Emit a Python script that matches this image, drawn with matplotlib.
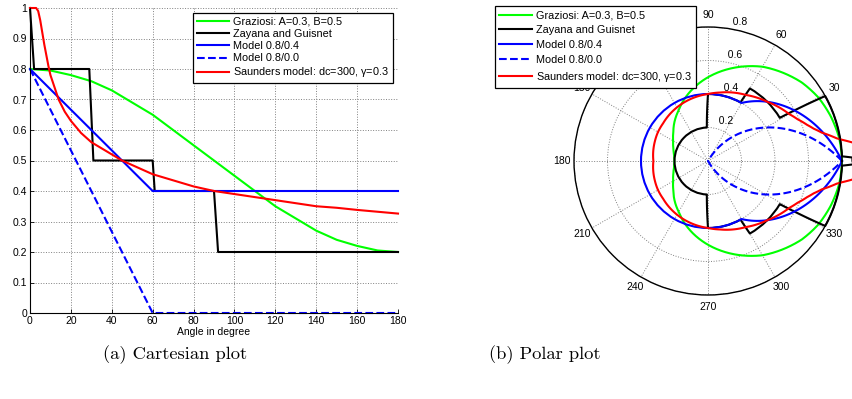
import numpy as np
import matplotlib
matplotlib.use("Agg")
import matplotlib.pyplot as plt

# ---- data (angle in degree, value) ----
graz_ang = [0, 10, 20, 30, 40, 50, 60, 70, 80, 90, 100, 110, 120, 130, 140, 150, 160, 170, 180]
graz_val = [0.80, 0.795, 0.78, 0.76, 0.73, 0.69, 0.65, 0.60, 0.55, 0.50,
            0.45, 0.40, 0.35, 0.31, 0.27, 0.24, 0.22, 0.205, 0.20]

zay_ang = [0, 2, 29, 31, 60, 61, 90, 92, 180]
zay_val = [1.0, 0.8, 0.8, 0.5, 0.5, 0.4, 0.4, 0.2, 0.2]

m84_ang = [0, 60, 180]
m84_val = [0.8, 0.4, 0.4]

m80_ang = [0, 60, 180]
m80_val = [0.8, 0.0, 0.0]

sau_ang = [0, 3, 4, 5, 6, 7, 8, 9, 10, 12, 14, 17, 20, 25, 30, 40, 45, 50, 60, 70,
           80, 90, 100, 110, 120, 130, 140, 150, 160, 170, 180]
sau_val = [1.0, 1.0, 0.99, 0.96, 0.92, 0.88, 0.845, 0.81, 0.78, 0.74, 0.70, 0.66, 0.63,
           0.59, 0.56, 0.52, 0.50, 0.485, 0.455, 0.435, 0.415, 0.40, 0.39, 0.38, 0.37,
           0.36, 0.35, 0.345, 0.338, 0.332, 0.326]

labels = ["Graziosi: A=0.3, B=0.5", "Zayana and Guisnet", "Model 0.8/0.4",
          "Model 0.8/0.0", "Saunders model: dc=300, $\\gamma$=0.3"]

series = [(graz_ang, graz_val, "#00ff00", "-"),
          (zay_ang, zay_val, "black", "-"),
          (m84_ang, m84_val, "blue", "-"),
          (m80_ang, m80_val, "blue", "--"),
          (sau_ang, sau_val, "red", "-")]

plt.rcParams["font.family"] = ["Liberation Sans", "DejaVu Sans"]
plt.rcParams["mathtext.fontset"] = "custom"
plt.rcParams["mathtext.it"] = "Liberation Sans"
plt.rcParams["mathtext.rm"] = "Liberation Sans"
fs = 7.5
lfs = 7.8

fig = plt.figure(figsize=(8.53, 3.99), dpi=100)

# ---------------- cartesian ----------------
ax = fig.add_axes([30 / 853, 1 - 313 / 399, 368 / 853, 305 / 399])
for (a, v, c, ls), lab in zip(series, labels):
    ax.plot(a, v, color=c, ls=ls, lw=1.5, label=lab, clip_on=False)
ax.set_xlim(0, 180)
ax.set_ylim(0, 1)
ax.set_xticks(range(0, 181, 20))
ax.set_yticks(np.arange(0, 1.01, 0.1))
ax.set_yticklabels(["0", "0.1", "0.2", "0.3", "0.4", "0.5", "0.6", "0.7", "0.8", "0.9", "1"])
ax.tick_params(direction="in", length=3, labelsize=fs, width=0.6, pad=2)
ax.grid(True, ls=":", color="#808080", lw=0.7)
ax.spines["top"].set_visible(False)
ax.spines["right"].set_visible(False)
for s in ("left", "bottom"):
    ax.spines[s].set_linewidth(0.8)
ax.set_xlabel("Angle in degree", fontsize=fs, labelpad=1)
leg = ax.legend(loc="upper right", fontsize=lfs, handlelength=3.0, labelspacing=0.2,
                borderpad=0.35, handletextpad=0.4, fancybox=False, framealpha=1,
                edgecolor="black", borderaxespad=0,
                bbox_to_anchor=(393 / 853, 1 - 13 / 399), bbox_transform=fig.transFigure)
leg.get_frame().set_linewidth(0.9)

# ---------------- polar ----------------
px = fig.add_axes([574 / 853, 1 - 295 / 399, 268 / 853, 268 / 399], projection="polar")
for (a, v, c, ls), lab in zip(series, labels):
    a = np.array(a, dtype=float)
    v = np.array(v, dtype=float)
    th = np.deg2rad(np.concatenate([a, 360 - a[::-1]]))
    rr = np.concatenate([v, v[::-1]])
    ln, = px.plot(th, rr, color=c, ls=ls, lw=1.5, label=lab, clip_on=False)
    ln.get_path()._interpolation_steps = 40
px.set_ylim(0, 0.8)
px.set_yticks([0.2, 0.4, 0.6, 0.8])
px.set_yticklabels([])
px.set_thetagrids(range(0, 360, 30), [str(t) for t in range(0, 360, 30)], fontsize=fs)
px.tick_params(axis="x", pad=-2)
px.grid(True, ls=":", color="#808080", lw=0.7)
px.spines["polar"].set_linewidth(1.0)
for r in [0.2, 0.4, 0.6, 0.8]:
    px.text(np.deg2rad(82), r + 0.01, "  %.1f" % r, ha="left", va="bottom", fontsize=fs)
pleg = px.legend(loc="upper left", fontsize=lfs, handlelength=3.0, labelspacing=0.45,
                 borderpad=0.4, handletextpad=0.4, fancybox=False, framealpha=1,
                 edgecolor="black", borderaxespad=0,
                 bbox_to_anchor=(495 / 853, 1 - 6 / 399), bbox_transform=fig.transFigure)
pleg.get_frame().set_linewidth(0.9)

# captions
fig.text(175 / 853, 1 - 355 / 399, "(a) Cartesian plot", ha="center", va="center",
         fontsize=13.3, family="cmr10")
fig.text(545 / 853, 1 - 355 / 399, "(b) Polar plot", ha="center", va="center",
         fontsize=13.3, family="cmr10")

fig.savefig("out.png", dpi=100)
